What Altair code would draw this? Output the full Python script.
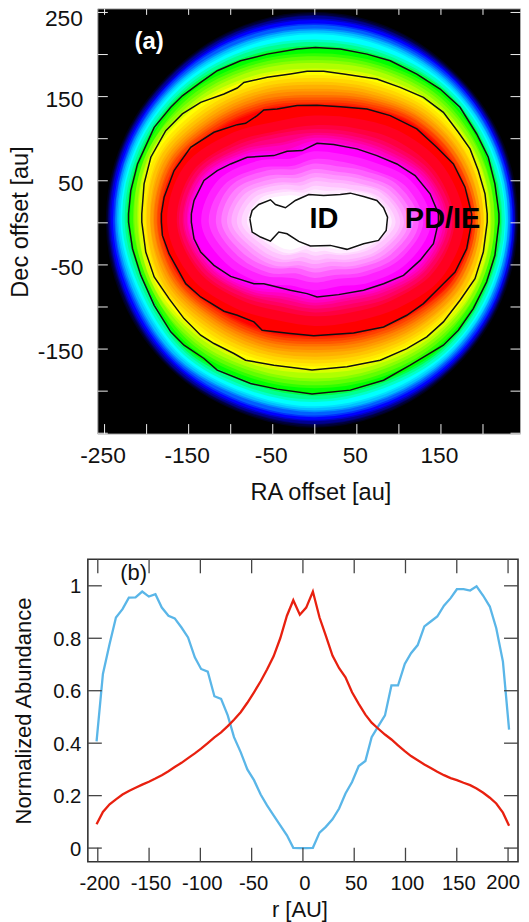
import numpy as np
import pandas as pd
import altair as alt

FONT = "Liberation Sans"

# Panel (a): colour bands, radius [au] read along 16 directions
band_angles = [180, 157.5, 135, 112.5, 90, 67.5, 45, 22.5, 0, -22.5, -45, -67.5, -90, -112.5, -135, -157.5]
band_colors = ["#00003c", "#000090", "#0000ff", "#0060ff", "#00c0ff", "#00ffff", "#00ff90", "#00ff00",
               "#60ff00", "#b0ff00", "#ffff00", "#ffd800", "#ffb000", "#ff8800", "#ff5800", "#ff2800",
               "#ff0000", "#ff0040", "#ff0080", "#ff00c0", "#ff00ff", "#ff40ff", "#ff80ff", "#ffb0ff",
               "#ffd8ff", "#ffffff"]
band_radii = [
    [247, 247, 246, 248, 249, 247, 243, 242, 240, 239, 238, 240, 242, 241, 243, 245],
    [245, 245, 244, 245, 246, 244, 241, 240, 238, 237, 236, 237, 239, 238, 241, 242],
    [242, 242, 240, 241, 241, 240, 238, 237, 236, 234, 233, 233, 234, 234, 237, 239],
    [238, 238, 237, 236, 235, 235, 235, 234, 233, 231, 229, 228, 229, 229, 233, 234],
    [235, 235, 233, 230, 229, 230, 231, 231, 230, 227, 225, 223, 223, 223, 229, 230],
    [231, 231, 229, 225, 224, 225, 227, 228, 227, 224, 221, 218, 218, 218, 224, 225],
    [226, 226, 223, 218, 215, 217, 222, 223, 223, 219, 216, 210, 210, 211, 218, 219],
    [221, 221, 218, 211, 208, 211, 218, 219, 219, 215, 211, 204, 203, 204, 213, 213],
    [216, 216, 211, 202, 198, 202, 211, 214, 214, 210, 204, 196, 193, 196, 205, 209],
    [211, 213, 204, 195, 190, 195, 204, 209, 210, 206, 197, 188, 185, 188, 198, 206],
    [206, 208, 197, 186, 180, 186, 197, 204, 205, 201, 190, 180, 175, 180, 190, 202],
    [201, 202, 189, 178, 172, 178, 191, 199, 201, 196, 183, 172, 167, 172, 182, 196],
    [196, 196, 181, 170, 164, 170, 184, 194, 197, 191, 176, 164, 159, 164, 174, 190],
    [192, 190, 174, 163, 156, 163, 178, 189, 194, 186, 170, 157, 151, 157, 167, 184],
    [188, 185, 168, 156, 149, 157, 173, 185, 191, 182, 164, 150, 144, 150, 161, 179],
    [184, 180, 162, 150, 143, 151, 168, 181, 188, 178, 158, 144, 138, 144, 155, 174],
    [182, 177, 158, 146, 139, 147, 165, 178, 186, 176, 155, 140, 134, 140, 151, 171],
    [164, 158, 135, 118, 116, 122, 138, 156, 166, 153, 130, 115, 111, 113, 128, 150],
    [157, 150, 126, 110, 107, 112, 126, 147, 159, 144, 121, 105, 102, 103, 119, 142],
    [152, 145, 119, 100, 101, 105, 118, 141, 153, 138, 113, 97, 95, 95, 113, 136],
    [147, 139, 112, 90, 94, 97, 110, 134, 147, 131, 106, 90, 88, 87, 106, 130],
    [126, 117, 92, 73, 76, 79, 91, 116, 129, 111, 88, 72, 71, 71, 88, 108],
    [111, 103, 79, 62, 64, 66, 79, 103, 117, 98, 75, 60, 59, 58, 75, 93],
    [99, 90, 67, 52, 54, 56, 68, 92, 106, 87, 65, 50, 49, 49, 65, 80],
    [87, 78, 56, 42, 44, 46, 57, 82, 96, 76, 54, 40, 39, 38, 54, 68],
    [76, 67, 46, 34, 35, 36, 48, 73, 87, 66, 45, 31, 30, 29, 45, 57],
]

# Panel (a): contours [au]
c1_x = [-221.5, -218.8, -210.8, -191, -171.3, -157.5, -135.7, -116, -88.3, -56.6, -21, 0.7, 30.4, 62, 89.7, 121.3, 149, 172.7, 192.5, 206.3, 214.2, 219, 219, 214.2, 204.3, 188.5, 170.7, 152.9, 113.4, 81.8, 42.2, -3.3, -44.8, -76.4, -116, -131.8, -155.5, -171.3, -191, -206.9, -216.8, -221.5, -221.5]
c1_y = [10.8, 38.4, 70, 113.5, 137.3, 151, 167, 180.8, 192.6, 200.5, 206.5, 208.4, 206.5, 200.5, 192.6, 176.8, 159, 137.3, 105.6, 78, 46.3, 10.8, 0.9, -38.6, -70.3, -101.9, -127.6, -145.4, -169.1, -187, -198.8, -203.5, -197.6, -190.9, -175, -161.2, -145.4, -129.6, -98, -62.4, -30.7, 0.9, 10.8]
c2_x = [-205.7, -203, -195, -177.2, -157.5, -135.7, -108, -92.2, -84.3, -56.6, -29, -9.2, 10.6, 34.3, 73.8, 101.5, 129.2, 152.9, 170.7, 184.6, 194.4, 202.4, 205, 205, 200.4, 190.5, 172.7, 152.9, 133.2, 109.4, 77.8, 38.3, -3.3, -48.7, -82.3, -96.2, -119.9, -135.7, -155.5, -173.3, -191, -201, -205.7, -205.7]
c2_y = [10.8, 46.3, 78, 109.6, 129.4, 143.2, 153.1, 160.2, 166.9, 172.9, 176.8, 180, 180, 176.8, 170.9, 161, 149.1, 131.3, 107.6, 87.9, 62.1, 34.5, 10.8, 0.9, -34.7, -66.3, -92, -117.7, -135.5, -149.4, -163.2, -171.1, -175, -169.1, -163.2, -155.3, -143.4, -133.5, -113.8, -90, -64.3, -34.7, 0.9, 10.8]
c3_x = [-182.4, -179.2, -167.3, -147.6, -119.9, -92.2, -82.3, -68.5, -60.6, -44.8, -21, 2.7, 30.4, 62, 89.7, 121.3, 145, 164.8, 178.6, 186.5, 186.5, 180.6, 166.8, 152.9, 129.2, 109.4, 81.8, 46.2, -1.3, -29, -62.6, -72.4, -92.2, -108, -135.7, -153.5, -173.3, -181.2, -182.4, -182.4]
c3_y = [10.8, 30.5, 62.1, 89.8, 107.6, 116.7, 118.3, 127.4, 134.1, 135.3, 139.3, 139.6, 138, 135.3, 127.4, 111.6, 89.8, 70, 42.4, 10.8, 0.9, -30.7, -58.4, -72.3, -96, -109.8, -123.7, -130.8, -134.3, -131.6, -127.6, -117.7, -109.8, -105, -88.1, -72.3, -36.7, -14.9, 0.9, 10.8]
c4_x = [-146.8, -143.6, -131.8, -116, -100.1, -80.4, -48.7, -32.9, -15.1, 2.7, 22.4, 50.1, 73.8, 97.6, 119.3, 137.1, 147, 147, 141.1, 125.2, 105.5, 81.8, 58, 28.4, 2.7, -9.2, -29, -60.6, -72.4, -100.1, -119.9, -135.7, -143.6, -146.8, -146.8]
c4_y = [10.8, 26.6, 50.3, 62.1, 70, 77.9, 79.9, 85.1, 85.9, 94.6, 93, 87.9, 79.9, 70, 56.2, 34.5, 10.8, 0.9, -24.8, -44.6, -62.4, -72.3, -80.2, -85.3, -88.1, -84.1, -80.2, -72.3, -72.3, -63.6, -50.5, -34.7, -18.9, 0.9, 10.8]
c5_x = [-77.2, -74.5, -66.6, -52.7, -46.8, -34.9, -23.1, -7.2, 10.6, 30.3, 42.2, 58, 73.8, 81.7, 86.5, 84.9, 75.8, 58, 38.2, 18.5, -5.3, -19.1, -33, -42.8, -52.7, -64.6, -74.5, -77.2]
c5_y = [4.8, 14.7, 21.8, 27.4, 21.8, 17.9, 26.6, 33.7, 32.5, 33.7, 35.3, 31.3, 26.6, 17.9, 6.8, -9, -20.9, -24.8, -31.5, -26.8, -27.6, -22.1, -13, -11, -21.7, -16.9, -11, 4.8]

a_x_labels = [-250, -150, -50, 50, 150]
a_y_labels = [-150, -50, 50, 150, 250]
a_x_ticks = [-250, -200, -150, -100, -50, 0, 50, 100, 150, 200]
a_y_ticks = [-250, -200, -150, -100, -50, 0, 50, 100, 150, 200, 250]

# Panel (b)
blue_r = [-201.2, -195, -188.5, -182.3, -175.9, -169.7, -163.2, -156.7, -150.2, -143.8, -137.6, -131.1, -125, -118.4, -112, -105.4, -99.3, -92.8, -86.3, -79.8, -73.3, -67.2, -60.7, -54.2, -47.7, -41.2, -35, -28.6, -22.1, -15.6, -9.4, -3, 3.2, 9.7, 16.2, 22.3, 28.8, 35.3, 41.5, 47.9, 54.4, 60.9, 67, 73.5, 80, 86.3, 92.7, 99.3, 105.4, 111.9, 118.4, 124.6, 131, 137.5, 144, 150.1, 156.6, 163, 169.3, 175.8, 182.2, 188.5, 195, 201]
blue_v = [.407, .664, .778, .879, .911, .955, .956, .978, .959, .968, .917, .886, .876, .841, .803, .727, .683, .673, .579, .569, .506, .423, .366, .300, .259, .204, .163, .125, .087, .049, .001, 0, 0, .001, .059, .081, .110, .151, .208, .252, .313, .332, .423, .465, .506, .620, .620, .702, .743, .774, .845, .864, .883, .924, .953, .987, .987, .982, .998, .962, .921, .838, .711, .452]
red_v = [.091, .138, .167, .186, .204, .218, .230, .242, .253, .265, .278, .293, .309, .325, .343, .361, .379, .400, .422, .441, .465, .489, .518, .554, .594, .636, .681, .731, .800, .886, .945, .890, .917, .978, .879, .810, .734, .686, .651, .594, .550, .509, .478, .455, .433, .414, .392, .370, .351, .335, .319, .305, .291, .278, .267, .259, .249, .240, .227, .211, .192, .170, .135, .085]
b_x_ticks = [-200, -150, -100, -50, 0, 50, 100, 150, 200]
b_y_ticks = [0, 0.2, 0.4, 0.6, 0.8, 1]

# Panel sizes: panel (a) plot starts 10 px left of its frame so both panels share a left edge
A_W, A_H = 433.5, 426
A_L = 10
B_W, B_H = 431, 303
a_xmin, a_xmax, a_ymin, a_ymax = -258, 244.6, -251, 254.25
xa = alt.Scale(domain=[a_xmin - A_L / 0.8421, a_xmax], nice=False, zero=False)
ya = alt.Scale(domain=[a_ymin, a_ymax], nice=False, zero=False)
xb = alt.Scale(domain=[-209.7, 209.7], nice=False, zero=False)
yb = alt.Scale(domain=[-0.052, 1.101], nice=False, zero=False)

angles = np.deg2rad(band_angles)
HYPHEN = "'' + datum.value"
FS_A, FS_AT = 22.8, 23.6
FS_B, FS_BT = 20.3, 22

common = dict(grid=False, domain=False, tickSize=0, labelFont=FONT, titleFont=FONT, titleFontWeight="normal",
              labelColor="#111", titleColor="#111", labelFlush=False, labelOverlap=False)
axis_x_a = alt.Axis(title="RA offset [au]", values=a_x_labels, labelFontSize=FS_A, titleFontSize=FS_AT,
                    labelPadding=10.5, titlePadding=13, labelOffset=-2, titleX=233, labelExpr=HYPHEN, **common)
axis_y_a = alt.Axis(title="Dec offset [au]", values=a_y_labels, labelFontSize=FS_A, titleFontSize=FS_AT,
                    labelPadding=5, titlePadding=5, labelOffset=2.5,
                    labelExpr="datum.value == 250 ? '' : '' + datum.value", **common)

rect_df = pd.DataFrame({"x": [a_xmin], "x2": [a_xmax], "y": [a_ymin], "y2": [a_ymax]})
layers_a = [
    alt.Chart(rect_df).mark_rect(fill="black", stroke="#aaaaaa", strokeWidth=1)
    .encode(x=alt.X("x:Q", scale=xa, axis=axis_x_a), x2="x2:Q",
            y=alt.Y("y:Q", scale=ya, axis=axis_y_a), y2="y2:Q")
]

for k, (color, radii) in enumerate(zip(band_colors, band_radii)):
    r = np.array(radii, dtype=float)
    df = pd.DataFrame({"x": r * np.cos(angles), "y": r * np.sin(angles), "o": range(len(r))})
    gap = 2.5 if k == 0 else float(np.median(np.array(band_radii[k - 1]) - r)) * 0.842
    layers_a.append(
        alt.Chart(df).mark_line(fill=color, stroke=color, strokeOpacity=0.5, strokeWidth=gap,
                                interpolate="cardinal-closed", clip=True)
        .encode(x=alt.X("x:Q", scale=xa), y=alt.Y("y:Q", scale=ya), order="o:Q")
    )

for cx, cy, fill in [(c1_x, c1_y, None), (c2_x, c2_y, None), (c3_x, c3_y, None), (c4_x, c4_y, None), (c5_x, c5_y, "#ffffff")]:
    df = pd.DataFrame({"x": cx, "y": cy, "o": range(len(cx))})
    kw = {"fill": fill} if fill else {}
    layers_a.append(alt.Chart(df).mark_line(stroke="#111", strokeWidth=1.5, clip=True, **kw)
                    .encode(x=alt.X("x:Q", scale=xa), y=alt.Y("y:Q", scale=ya), order="o:Q"))

txa = pd.DataFrame({"t": a_x_ticks})
tya = pd.DataFrame({"t": a_y_ticks})
TICK_A = "#eeeeee"
layers_a += [
    alt.Chart(txa).mark_rule(color=TICK_A, strokeWidth=1).encode(x=alt.X("t:Q", scale=xa), y=alt.value(0), y2=alt.value(6)),
    alt.Chart(txa).mark_rule(color=TICK_A, strokeWidth=1).encode(x=alt.X("t:Q", scale=xa), y=alt.value(A_H - 10), y2=alt.value(A_H)),
    alt.Chart(tya).mark_rule(color=TICK_A, strokeWidth=1).encode(y=alt.Y("t:Q", scale=ya), x=alt.value(A_L), x2=alt.value(A_L + 10)),
    alt.Chart(tya).mark_rule(color=TICK_A, strokeWidth=1).encode(y=alt.Y("t:Q", scale=ya), x=alt.value(A_W - 10), x2=alt.value(A_W)),
]
for label, x, y, size, col in [("(a)", -197, 215, 24, "white"), ("ID", 11, 4, 29, "black"), ("PD/IE", 152, 4, 29, "black")]:
    layers_a.append(alt.Chart(pd.DataFrame({"x": [x], "y": [y], "l": [label]}))
                    .mark_text(font=FONT, fontWeight="bold", fontSize=size, color=col, align="center", baseline="middle")
                    .encode(x=alt.X("x:Q", scale=xa), y=alt.Y("y:Q", scale=ya), text="l:N"))
layers_a.append(alt.Chart(pd.DataFrame({"l": ["250"]}))
                .mark_text(font=FONT, fontSize=FS_A, color="#111", align="right", baseline="middle")
                .encode(x=alt.value(-5), y=alt.value(10), text="l:N"))

panel_a = alt.layer(*layers_a).properties(width=A_W, height=A_H, view=alt.ViewConfig(stroke=None))

axis_x_b = alt.Axis(title="r [AU]", values=b_x_ticks, labelFontSize=FS_B, titleFontSize=FS_BT,
                    labelPadding=11.5, titlePadding=6, labelOffset=1.5, titleX=212,
                    labelExpr="datum.value == 200 ? '' : '' + datum.value", **common)
axis_y_b = alt.Axis(title="Normalized Abundance", values=b_y_ticks, labelFontSize=FS_B, titleFontSize=FS_BT,
                    labelPadding=7, titlePadding=17, labelOffset=1, labelExpr=HYPHEN, **common)
line_df = pd.DataFrame({"r": blue_r, "blue": blue_v, "red": red_v})
txdf = pd.DataFrame({"t": b_x_ticks})
tydf = pd.DataFrame({"t": b_y_ticks})
tl = 14
tick_col = "#444444"
layers_b = [
    alt.Chart(line_df).mark_line(color="#5ab6e8", strokeWidth=2.3).encode(x=alt.X("r:Q", scale=xb, axis=axis_x_b), y=alt.Y("blue:Q", scale=yb, axis=axis_y_b)),
    alt.Chart(line_df).mark_line(color="#e8200f", strokeWidth=2.3).encode(x=alt.X("r:Q", scale=xb), y=alt.Y("red:Q", scale=yb)),
    alt.Chart(txdf).mark_rule(color=tick_col, strokeWidth=1.3).encode(x=alt.X("t:Q", scale=xb), y=alt.value(0), y2=alt.value(tl)),
    alt.Chart(txdf).mark_rule(color=tick_col, strokeWidth=1.3).encode(x=alt.X("t:Q", scale=xb), y=alt.value(B_H - tl), y2=alt.value(B_H)),
    alt.Chart(tydf).mark_rule(color=tick_col, strokeWidth=1.3).encode(y=alt.Y("t:Q", scale=yb), x=alt.value(0), x2=alt.value(tl)),
    alt.Chart(tydf).mark_rule(color=tick_col, strokeWidth=1.3).encode(y=alt.Y("t:Q", scale=yb), x=alt.value(B_W - tl), x2=alt.value(B_W)),
    alt.Chart(pd.DataFrame({"x": [-165], "y": [1.05], "l": ["(b)"]}))
    .mark_text(font=FONT, fontSize=22, color="#111", align="center", baseline="middle")
    .encode(x=alt.X("x:Q", scale=xb), y=alt.Y("y:Q", scale=yb), text="l:N"),
    alt.Chart(pd.DataFrame({"x": [209.7], "l": ["200"]}))
    .mark_text(font=FONT, fontSize=FS_B, color="#111", align="right", baseline="middle", dx=2)
    .encode(x=alt.X("x:Q", scale=xb), y=alt.value(B_H + 21), text="l:N"),
]
panel_b = alt.layer(*layers_b).properties(width=B_W, height=B_H, view=alt.ViewConfig(fill="white", stroke="#333333", strokeWidth=1.6))

chart = alt.vconcat(panel_a, panel_b, spacing=53.5).properties(padding={"left": 0, "top": -5, "right": 0, "bottom": 0}, background="white")
chart.save("out.html", embed_options={"renderer": "svg", "actions": False})
